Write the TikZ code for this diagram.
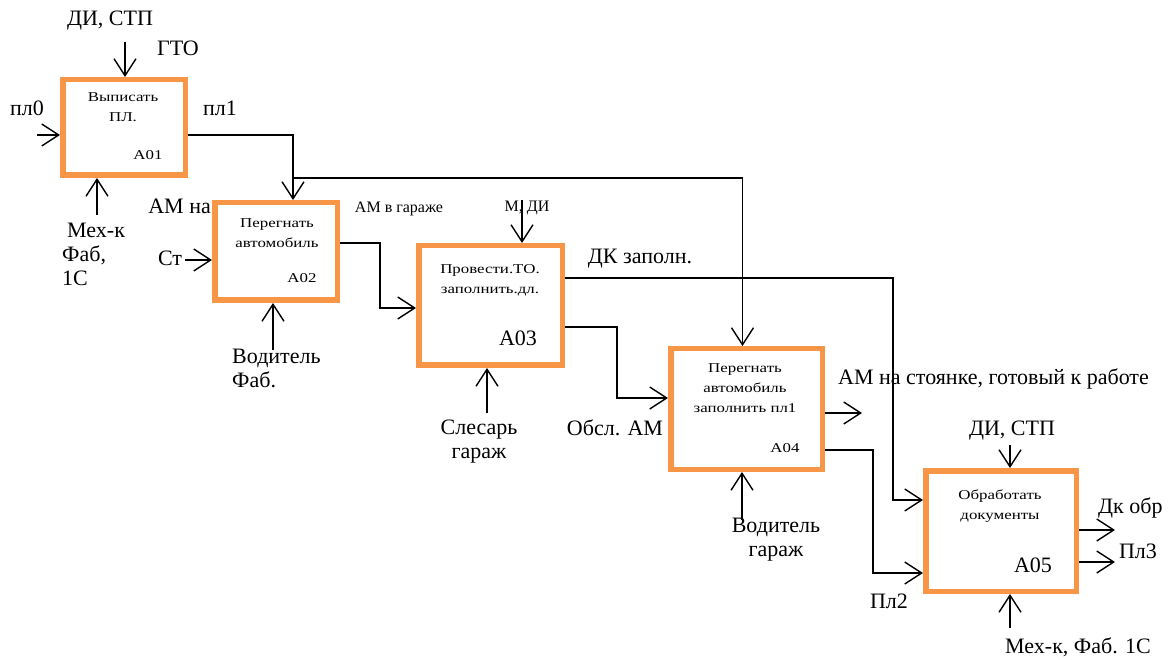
\documentclass[tikz,border=0pt]{standalone}
\usepackage{fontspec}
\setmainfont{Liberation Serif}
\usetikzlibrary{arrows.meta,calc}
\definecolor{boxorange}{HTML}{F79646}
\newcommand{\mywide}[1]{\scalebox{1.25}[1]{#1}}
\tikzset{
  fn/.style={draw=boxorange, line width=5.5pt, fill=white, inner sep=0pt},
  lbl/.style={font=\fontsize{22}{24}\selectfont, inner sep=0pt, anchor=center},
  mid/.style={font=\fontsize{16}{18}\selectfont, inner sep=0pt, anchor=center},
  small/.style={font=\fontsize{13.5}{20}\selectfont, inner sep=0pt, align=center},
  con/.style={line width=1.4pt, -{Straight Barb[length=17pt,width=22pt,line width=1.4pt]}}
}
\begin{document}
\begin{tikzpicture}[x=1pt,y=-1pt]
\useasboundingbox (0,0) rectangle (1176,660);
% boxes
\node[fn, minimum width=122.5pt, minimum height=95.5pt] (A01) at (124,127.5) {};
\node[fn, minimum width=122.5pt, minimum height=97.5pt] (A02) at (276,251.5) {};
\node[fn, minimum width=143.5pt, minimum height=119.5pt] (A03) at (490.5,305.5) {};
\node[fn, minimum width=151.5pt, minimum height=120.5pt] (A04) at (746.5,409) {};
\node[fn, minimum width=150.5pt, minimum height=120.5pt] (A05) at (1001,531) {};
% box texts
\node[small] (t1) at (123,107.5) {\mywide{Выписать}\\\mywide{ПЛ.}};
\node[small] (n1) at (148,155) {\mywide{A01}};
\node[small] (t2) at (277,233) {\mywide{Перегнать}\\\mywide{автомобиль}};
\node[small] (n2) at (302,278) {\mywide{A02}};
\node[small] (t3) at (490,280) {\mywide{Провести.ТО.}\\\mywide{заполнить.дл.}};
\node[lbl] (n3) at (518,338) {A03};
\node[small] (t4) at (745,388) {\mywide{Перегнать}\\\mywide{автомобиль}\\\mywide{заполнить пл1}};
\node[small] (n4) at (785,448) {\mywide{A04}};
\node[small] (t5) at (1000,506) {\mywide{Обработать}\\\mywide{документы}};
\node[lbl] (n5) at (1033,565) {A05};
% free ends
\coordinate (c1) at (125,42);
\coordinate (i1) at (37,135);
\coordinate (m1) at (97,215);
\coordinate (i2) at (185,260);
\coordinate (m2) at (273,350);
\coordinate (c3) at (522,200);
\coordinate (m3) at (487,413);
\coordinate (o4) at (862,413);
\coordinate (m4) at (742,520);
\coordinate (c5) at (1010,445);
\coordinate (m5) at (1010,628);
\coordinate (o5a) at (1115,530);
\coordinate (o5b) at (1115,562);
\coordinate (br) at (293,178);
% connectors
\draw[con] (c1) -- (c1 |- A01.north);
\draw[con] (i1) -- (A01.west |- i1);
\draw[con] (m1) -- (m1 |- A01.south);
\draw[con] (A01.east |- 0,135) -| (br) -- (br |- A02.north);
\draw[con] (br) -| ([xshift=-4pt]A04.north);
\draw[con] (i2) -- (A02.west |- i2);
\draw[con] (m2) -- (m2 |- A02.south);
\draw[con] (A02.east |- 0,243) -- (380,243) |- (A03.west |- 0,308);
\draw[con] (c3) -- (c3 |- A03.north);
\draw[con] (m3) -- (m3 |- A03.south);
\draw[con] (A03.east |- 0,278) -- (893,278) |- (A05.west |- 0,500);
\draw[con] (A03.east |- 0,327) -- (617,327) |- (A04.west |- 0,398);
\draw[con] (A04.east |- o4) -- (o4);
\draw[con] (m4) -- (m4 |- A04.south);
\draw[con] (A04.east |- 0,450) -- (873,450) |- (A05.west |- 0,573);
\draw[con] (c5) -- (c5 |- A05.north);
\draw[con] (m5) -- (m5 |- A05.south);
\draw[con] (A05.east |- o5a) -- (o5a);
\draw[con] (A05.east |- o5b) -- (o5b);
% labels
\node[lbl] (l1) at (110,21) {ДИ, СТП};
\node[lbl] (l2) at (178,48) {ГТО};
\node[lbl] (l3) at (27,108) {пл0};
\node[lbl] (l4) at (220,108) {пл1};
\node[lbl, align=left, anchor=west] (l5) at (62,254) {\hspace{5pt}Мех-к\\Фаб,\\1С};
\node[lbl, anchor=east] (l6) at (211,206) {АМ на};
\node[lbl] (l7) at (170,258) {Ст};
\node[mid] (l8) at (399,209) {АМ в гараже};
\node[lbl, align=left, anchor=west] (l9) at (232,368) {Водитель\\Фаб.};
\node[mid] (l10) at (527,208) {М, ДИ};
\node[lbl] (l11) at (640,259) {ДК заполн.};
\node[lbl, align=center] (l12) at (479,442) {Слесарь\\гараж};
\node[lbl] (l13) at (615,428) {Обсл. АМ};
\node[lbl, anchor=west] (l14) at (838,379) {АМ на стоянке, готовый к работе};
\node[lbl, align=center] (l15) at (776,540) {Водитель\\гараж};
\node[lbl] (l16) at (1012,431) {ДИ, СТП};
\node[lbl, anchor=west] (l17) at (1098,508) {Дк обр};
\node[lbl] (l18) at (1138,551) {Пл3};
\node[lbl] (l19) at (889,601) {Пл2};
\node[lbl] (l20) at (1078,647) {Мех-к, Фаб. 1С};
\end{tikzpicture}
\end{document}
